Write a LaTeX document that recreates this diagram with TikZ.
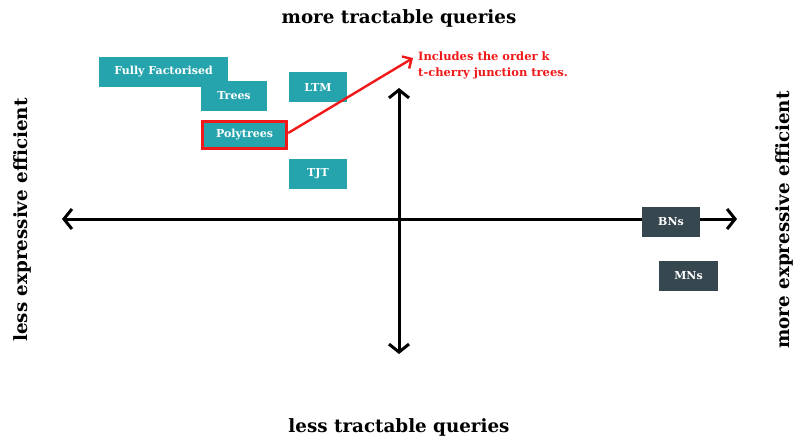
\documentclass[tikz,border=0pt]{standalone}
\usepackage{fontspec}
\setmainfont{DejaVu Serif}
\usetikzlibrary{arrows.meta}
\definecolor{teal1}{HTML}{26A4AD}
\definecolor{dark1}{HTML}{37474F}
\definecolor{red1}{HTML}{F01818}
\begin{document}
\begin{tikzpicture}[x=1pt,y=-1pt,
  box/.style={fill=teal1,text=white,font=\bfseries\fontsize{11}{13}\selectfont,minimum height=30pt,inner sep=0pt,anchor=center},
  dbox/.style={fill=dark1,text=white,font=\bfseries\fontsize{11}{13}\selectfont,minimum height=30pt,inner sep=0pt},
  axis/.style={line width=3pt,{Straight Barb[length=8pt,width=20pt,line width=3pt]}-{Straight Barb[length=8pt,width=20pt,line width=3pt]}},
  title/.style={font=\bfseries\fontsize{18.3}{22}\selectfont}]
\useasboundingbox (0,0) rectangle (793,442);
\coordinate (L) at (62,219);
\coordinate (R) at (737,219);
\coordinate (T) at (399,88);
\coordinate (B) at (399,354);
\draw[axis] (L) -- (R);
\draw[axis] (B) -- (T);
\node[box,minimum width=129pt] (ff) at (163.5,72) {Fully Factorised};
\node[box,minimum width=66pt] (trees) at (234,96) {Trees};
\node[box,minimum width=58pt] (ltm) at (318,87) {LTM};
\node[box,minimum width=84pt,minimum height=27pt,draw=red1,line width=3.4pt] (poly) at (244.5,135) {Polytrees};
\node[box,minimum width=58pt] (tjt) at (318,174) {TJT};
\node[dbox,minimum width=58pt] (bns) at (671,221.5) {BNs};
\node[dbox,minimum width=59pt] (mns) at (688.5,276) {MNs};
\node[anchor=west,align=left,text=red1,font=\bfseries\fontsize{11.5}{16}\selectfont,inner sep=0pt] (note) at (418,65) {Includes the order k\\t-cherry junction trees.};
\coordinate (tip) at (413,58);
\draw[red1,line width=2.4pt,-{Straight Barb[length=7pt,width=14pt,line width=2.4pt]}] (poly.east) ++(0,-2) -- (tip);
\node[title] (top) at (399,18) {more tractable queries};
\node[title] (bot) at (399,427) {less tractable queries};
\node[title,rotate=90] (left) at (22,220) {less expressive efficient};
\node[title,rotate=90] (right) at (784,220) {more expressive efficient};
\end{tikzpicture}
\end{document}
